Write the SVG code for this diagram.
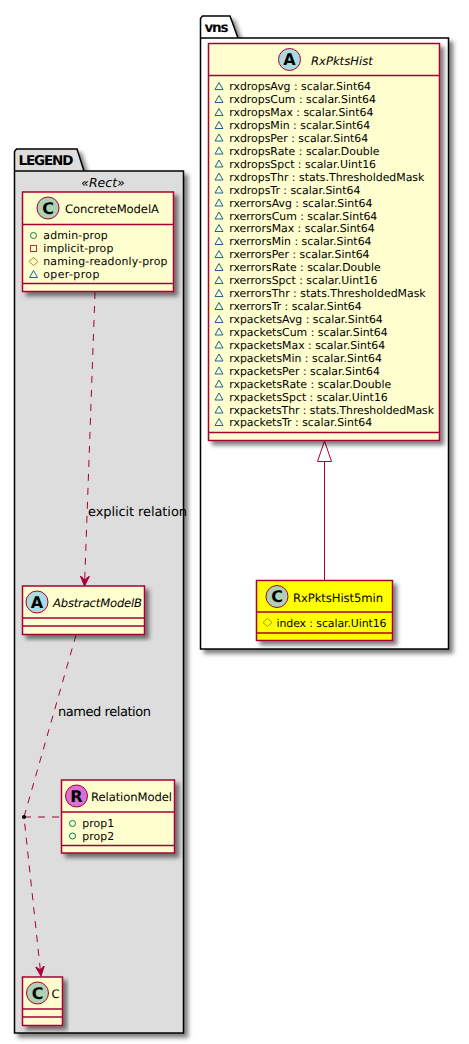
<svg xmlns="http://www.w3.org/2000/svg" width="469" height="1044" viewBox="0 0 469 1044">
<style>
text{font-family:"DejaVu Sans",Verdana,sans-serif;fill:#000;text-rendering:geometricPrecision}
.m{font-size:10.900px}.t{font-size:11.600px}.i{font-style:italic}
.pk{font-size:13.500px;font-weight:bold}
.box{fill:#FEFECE;stroke:#A80036;stroke-width:1.5}
.y{fill:#FFFF00}
.div{stroke:#A80036;stroke-width:1.5;fill:none}
.rel{stroke:#A80036;stroke-width:1;fill:none;stroke-dasharray:7 7}
.c{stroke:#A80036;stroke-width:1}
.gl{font-size:16px;font-weight:bold;text-anchor:middle}
.tri{fill:none;stroke:#1963A0;stroke-width:1}
.cir{fill:none;stroke:#038048;stroke-width:1}
.sq{fill:none;stroke:#C82930;stroke-width:1}
.dia{fill:none;stroke:#B38D22;stroke-width:1}
</style>
<defs>
<filter id="s" x="-10%" y="-10%" width="125%" height="125%"><feDropShadow dx="4" dy="4" stdDeviation="2" flood-color="#000" flood-opacity="0.5"/></filter>
<path id="tr" d="M0 3.500L4 -3.500L8 3.500Z" class="tri"/>
<marker id="open" markerUnits="userSpaceOnUse" markerWidth="12" markerHeight="12" refX="10" refY="5" orient="auto"><path d="M10 5L0 0.500L4 5L0 9.500Z" fill="#A80036" stroke="#A80036" stroke-width="1"/></marker>
</defs>
<rect width="469" height="1044" fill="#fff"/>
<g id="pkg-legend">
<path d="M14.500 171V151.500L16.500 149H77L84 171H183.500V1033H14.500V171H84" fill="#DDDDDD" stroke="#000" stroke-width="1.500" filter="url(#s)"/>
<text class="pk" x="18.500" y="165" textLength="55">LEGEND</text>
<text x="103" y="187" text-anchor="middle" font-size="12.500" font-style="italic">«Rect»</text>
</g>
<g id="pkg-vns">
<path d="M200.500 38V18.500L202.500 16H230L238 38H448.500V649H200.500V38H238" fill="#fff" stroke="#000" stroke-width="1.500" filter="url(#s)"/>
<text class="pk" x="204.500" y="32" textLength="24">vns</text>
</g>
<g id="connectors">
<path class="rel" d="M95 292L84.500 586" marker-end="url(#open)"/>
<text x="88" y="516" font-size="13" textLength="99">explicit relation</text>
<path class="rel" d="M76 635L24 817L41 976" marker-end="url(#open)"/>
<text x="58" y="716" font-size="13" textLength="93">named relation</text>
<path class="rel" d="M24 817H61"/>
<circle cx="24" cy="817" r="2" fill="#000"/>
<path d="M324.500 462V580" stroke="#A80036" stroke-width="1" fill="none"/>
<path d="M324.500 441L331.500 461.500H317.500Z" fill="#fff" stroke="#A80036" stroke-width="1"/>
</g>
<g id="ConcreteModelA">
<rect class="box" x="22.500" y="192" width="151" height="99.500" filter="url(#s)"/>
<path class="div" d="M22.500 224.500H173.500M22.500 283.500H173.500"/>
<circle class="c" cx="48" cy="208" r="11" fill="#ADD1B2"/>
<text class="gl" x="48" y="213.500">C</text>
<text class="t" x="65" y="213" textLength="94">ConcreteModelA</text>
<circle class="cir" cx="33.500" cy="235.500" r="3"/><text class="m" x="43.300" y="239" textLength="64.400">admin-prop</text>
<rect class="sq" x="30.500" y="245.500" width="6" height="6"/><text class="m" x="43.300" y="252" textLength="70">implicit-prop</text>
<path class="dia" d="M33.500 257.500L38 261.500L33.500 265.500L29 261.500Z"/><text class="m" x="43.300" y="265" textLength="124.200">naming-readonly-prop</text>
<use href="#tr" x="29.500" y="274"/><text class="m" x="43.300" y="278" textLength="56">oper-prop</text>
</g>
<g id="AbstractModelB">
<rect class="box" x="22.500" y="586" width="122" height="48.500" filter="url(#s)"/>
<path class="div" d="M22.500 618H144.500M22.500 626H144.500"/>
<circle class="c" cx="37" cy="602" r="11" fill="#A9DCDF"/>
<text class="gl" x="37" y="607.500">A</text>
<text class="t i" x="53" y="607" textLength="89">AbstractModelB</text>
</g>
<g id="RelationModel">
<rect class="box" x="61.500" y="780" width="113" height="73" filter="url(#s)"/>
<path class="div" d="M61.500 812H174.500M61.500 845.500H174.500"/>
<circle class="c" cx="76.500" cy="796" r="11" fill="#DA70D6"/>
<text class="gl" x="76.500" y="801.500">R</text>
<text class="t" x="91" y="801" textLength="81">RelationModel</text>
<circle class="cir" cx="72.500" cy="823.500" r="3"/><text class="m" x="82.300" y="827" textLength="32">prop1</text>
<circle class="cir" cx="72.500" cy="836" r="3"/><text class="m" x="82.300" y="840" textLength="32">prop2</text>
</g>
<g id="C">
<rect class="box" x="22.500" y="977" width="40" height="48.500" filter="url(#s)"/>
<path class="div" d="M22.500 1009H62.500M22.500 1017H62.500"/>
<circle class="c" cx="37.500" cy="993" r="11" fill="#ADD1B2"/>
<text class="gl" x="37.500" y="998.500">C</text>
<text class="t" x="51.500" y="998">C</text>
</g>
<g id="RxPktsHist">
<rect class="box" x="208.500" y="43.500" width="231" height="397" filter="url(#s)"/>
<path class="div" d="M208.500 75.500H439.500M208.500 432.500H439.500"/>
<circle class="c" cx="289.500" cy="59.500" r="11" fill="#A9DCDF"/>
<text class="gl" x="289.500" y="65">A</text>
<text class="t i" x="311" y="64.500">RxPktsHist</text>
<use href="#tr" x="215" y="86"/><text class="m" x="229.300" y="90">rxdropsAvg : scalar.Sint64</text>
<use href="#tr" x="215" y="99"/><text class="m" x="229.300" y="103">rxdropsCum : scalar.Sint64</text>
<use href="#tr" x="215" y="112"/><text class="m" x="229.300" y="116">rxdropsMax : scalar.Sint64</text>
<use href="#tr" x="215" y="125"/><text class="m" x="229.300" y="129">rxdropsMin : scalar.Sint64</text>
<use href="#tr" x="215" y="137.500"/><text class="m" x="229.300" y="141.500">rxdropsPer : scalar.Sint64</text>
<use href="#tr" x="215" y="150.500"/><text class="m" x="229.300" y="154.500">rxdropsRate : scalar.Double</text>
<use href="#tr" x="215" y="163.500"/><text class="m" x="229.300" y="167.500">rxdropsSpct : scalar.Uint16</text>
<use href="#tr" x="215" y="176.500"/><text class="m" x="229.300" y="180.500">rxdropsThr : stats.ThresholdedMask</text>
<use href="#tr" x="215" y="189.500"/><text class="m" x="229.300" y="193.500">rxdropsTr : scalar.Sint64</text>
<use href="#tr" x="215" y="202.500"/><text class="m" x="229.300" y="206.500">rxerrorsAvg : scalar.Sint64</text>
<use href="#tr" x="215" y="215.500"/><text class="m" x="229.300" y="219.500">rxerrorsCum : scalar.Sint64</text>
<use href="#tr" x="215" y="228"/><text class="m" x="229.300" y="232">rxerrorsMax : scalar.Sint64</text>
<use href="#tr" x="215" y="241"/><text class="m" x="229.300" y="245">rxerrorsMin : scalar.Sint64</text>
<use href="#tr" x="215" y="254"/><text class="m" x="229.300" y="258">rxerrorsPer : scalar.Sint64</text>
<use href="#tr" x="215" y="267"/><text class="m" x="229.300" y="271">rxerrorsRate : scalar.Double</text>
<use href="#tr" x="215" y="280"/><text class="m" x="229.300" y="284">rxerrorsSpct : scalar.Uint16</text>
<use href="#tr" x="215" y="293"/><text class="m" x="229.300" y="297">rxerrorsThr : stats.ThresholdedMask</text>
<use href="#tr" x="215" y="306"/><text class="m" x="229.300" y="310">rxerrorsTr : scalar.Sint64</text>
<use href="#tr" x="215" y="319"/><text class="m" x="229.300" y="323">rxpacketsAvg : scalar.Sint64</text>
<use href="#tr" x="215" y="331.500"/><text class="m" x="229.300" y="335.500">rxpacketsCum : scalar.Sint64</text>
<use href="#tr" x="215" y="344.500"/><text class="m" x="229.300" y="348.500">rxpacketsMax : scalar.Sint64</text>
<use href="#tr" x="215" y="357.500"/><text class="m" x="229.300" y="361.500">rxpacketsMin : scalar.Sint64</text>
<use href="#tr" x="215" y="370.500"/><text class="m" x="229.300" y="374.500">rxpacketsPer : scalar.Sint64</text>
<use href="#tr" x="215" y="383.500"/><text class="m" x="229.300" y="387.500">rxpacketsRate : scalar.Double</text>
<use href="#tr" x="215" y="396.500"/><text class="m" x="229.300" y="400.500">rxpacketsSpct : scalar.Uint16</text>
<use href="#tr" x="215" y="409.500"/><text class="m" x="229.300" y="413.500" textLength="204.700">rxpacketsThr : stats.ThresholdedMask</text>
<use href="#tr" x="215" y="422"/><text class="m" x="229.300" y="426">rxpacketsTr : scalar.Sint64</text>
</g>
<g id="RxPktsHist5min">
<rect class="box y" x="256.500" y="580.500" width="136" height="60" filter="url(#s)"/>
<path class="div" d="M256.500 612H392.500M256.500 633H392.500"/>
<circle class="c" cx="277" cy="596.500" r="11" fill="#ADD1B2"/>
<text class="gl" x="277" y="602">C</text>
<text class="t" x="293" y="601.500" textLength="90">RxPktsHist5min</text>
<path class="dia" d="M267.500 618.500L272 622.500L267.500 626.500L263 622.500Z"/>
<text class="m" x="276.500" y="627" textLength="110">index : scalar.Uint16</text>
</g>
</svg>
